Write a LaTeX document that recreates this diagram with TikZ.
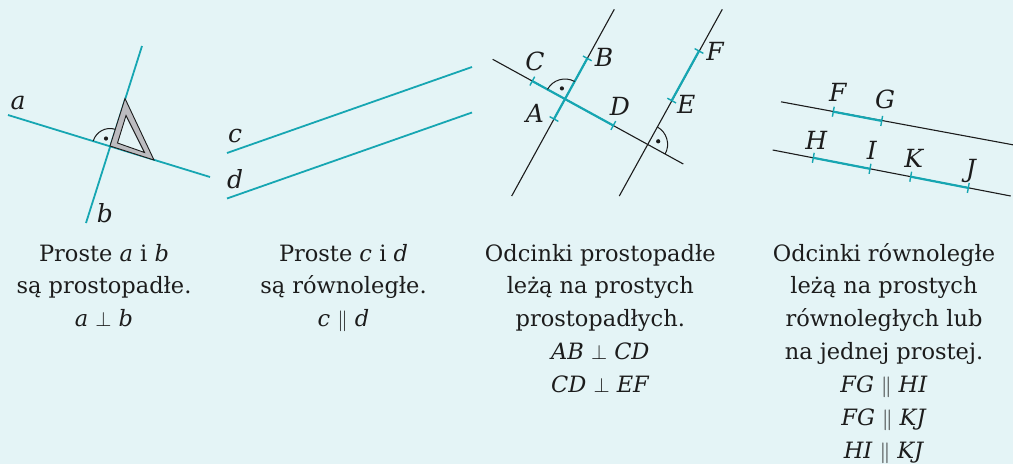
\documentclass[tikz,border=0pt]{standalone}
\usepackage{fontspec}
\setmainfont{DejaVu Serif}
\usetikzlibrary{calc}
\definecolor{bg}{RGB}{228,244,246}
\definecolor{teal1}{RGB}{22,166,178}
\definecolor{ink}{RGB}{28,28,28}
\definecolor{setsq}{RGB}{188,188,192}
\tikzset{
 tl/.style={draw=teal1, line width=1.8pt},
 bl/.style={draw=ink, line width=1.1pt},
 seg/.style={draw=teal1, line width=2.2pt},
 tickm/.style={draw=teal1, line width=1.4pt},
 lbl/.style={font=\fontsize{25}{28}\selectfont\itshape, inner sep=0pt, anchor=base, text=ink},
 txt/.style={font=\fontsize{22.5}{33}\selectfont, inner sep=0pt, anchor=base, text=ink},
 ra/.style={draw=ink, line width=1.0pt},
 dotm/.style={circle, fill=ink, inner sep=0pt, minimum size=4.2pt},
}
\begin{document}
\begin{tikzpicture}[x=1pt,y=-1pt]
\fill[bg] (0,0) rectangle (1013,464);
\useasboundingbox (0,0) rectangle (1013,464);

% ---------- panel 1 ----------
\coordinate (a1) at (8,115);
\coordinate (a2) at (210,177);
\coordinate (b1) at (142,46);
\coordinate (b2) at (86,223);
\coordinate (O1) at (110,146);
\draw[tl] (a1) -- (a2);
\draw[tl] (b1) -- (b2);
\draw[ra] ([shift={(73:17.5pt)}]O1) arc[start angle=73, end angle=163, radius=17.5pt];
\node[dotm] (dot1) at (106,138.5) {};
\path[fill=setsq, draw=ink, line width=0.9pt, even odd rule]
  (110,146) -- (125,98.5) -- (154,160) -- cycle
  (117.5,143) -- (126,115.5) -- (144.5,152.5) -- cycle;
\node[lbl] (la) at (18,109) {a};
\node[lbl] (lb) at (105,222) {b};

% ---------- panel 2 ----------
\coordinate (c1) at (227,153);
\coordinate (c2) at (472,67);
\coordinate (d1) at (227,198.5);
\coordinate (d2) at (472,112.5);
\draw[tl] (c1) -- (c2);
\draw[tl] (d1) -- (d2);
\node[lbl] (lc) at (235,142.5) {c};
\node[lbl] (ld) at (235,188) {d};

% ---------- panel 3 ----------
\coordinate (L1a) at (511.7,196);
\coordinate (L1b) at (614.3,9.3);
\coordinate (L2a) at (619.3,196);
\coordinate (L2b) at (722.3,9.3);
\coordinate (Ta) at (492.7,59.3);
\coordinate (Tb) at (683.3,164);
\coordinate (P1) at (565,99);
\coordinate (P2) at (647.6,144.4);
\coordinate (C) at (532.3,81.1);
\coordinate (D) at (613.3,125.5);
\coordinate (A) at (554,119);
\coordinate (B) at (587.3,58.4);
\coordinate (E) at (671.7,100.6);
\coordinate (F) at (699,51);
\draw[bl] (L1a) -- (L1b);
\draw[bl] (L2a) -- (L2b);
\draw[bl] (Ta) -- (Tb);
\draw[seg] (C) -- (D);
\draw[seg] (A) -- (B);
\draw[seg] (E) -- (F);
\foreach \p in {C,D}
  \draw[tickm] ($(\p)+(2.4,-4.4)$) -- ($(\p)-(2.4,-4.4)$);
\foreach \p in {A,B,E,F}
  \draw[tickm] ($(\p)+(4.4,2.4)$) -- ($(\p)-(4.4,2.4)$);
\draw[ra] ([shift={(61.2:20pt)}]P1) arc[start angle=61.2, end angle=151.2, radius=20pt];
\draw[ra] ([shift={(-28.8:20pt)}]P2) arc[start angle=-28.8, end angle=61.2, radius=20pt];
\node[dotm] (dot2) at (561.9,88.4) {};
\node[dotm] (dot3) at (658.2,141.3) {};
\node[lbl] (lC) at (535,70.7) {C};
\node[lbl] (lB) at (604,66.7) {B};
\node[lbl] (lA) at (535,122.7) {A};
\node[lbl] (lD) at (620,115) {D};
\node[lbl] (lE) at (686.3,113.3) {E};
\node[lbl] (lF) at (715,60) {F};

% ---------- panel 4 ----------
\coordinate (U1) at (781,101.8);
\coordinate (U2) at (1013,144.8);
\coordinate (W1) at (772.7,150);
\coordinate (W2) at (1010.7,196);
\coordinate (F4) at (833.3,111.7);
\coordinate (G4) at (881.7,120.9);
\coordinate (H4) at (813.3,157.8);
\coordinate (I4) at (870,168.8);
\coordinate (K4) at (910.7,176.7);
\coordinate (J4) at (968.3,187.9);
\draw[bl] (U1) -- (U2);
\draw[bl] (W1) -- (W2);
\draw[seg] (F4) -- (G4);
\draw[seg] (H4) -- (I4);
\draw[seg] (K4) -- (J4);
\foreach \p in {F4,G4,H4,I4,K4,J4}
  \draw[tickm] ($(\p)+(0.9,-5)$) -- ($(\p)-(0.9,-5)$);
\node[lbl] (lF4) at (837.7,101.7) {F};
\node[lbl] (lG4) at (885,108.3) {G};
\node[lbl] (lH4) at (816.3,149.3) {H};
\node[lbl] (lI4) at (871.7,159.3) {I};
\node[lbl] (lK4) at (913.7,167.3) {K};
\node[lbl] (lJ4) at (971,177) {J};

% ---------- captions ----------
\node[txt] (t11) at (104,261) {Proste \textit{a} i \textit{b}};
\node[txt] (t12) at (104,293.5) {są prostopadłe.};
\node[txt] (t13) at (104,326.5) {\textit{a} $\perp$ \textit{b}};

\node[txt] (t21) at (343.5,261) {Proste \textit{c} i \textit{d}};
\node[txt] (t22) at (343.5,293.5) {są równoległe.};
\node[txt] (t23) at (343.5,326.5) {\textit{c} $\parallel$ \textit{d}};

\node[txt] (t31) at (600.3,261) {Odcinki prostopadłe};
\node[txt] (t32) at (600.3,293.5) {leżą na prostych};
\node[txt] (t33) at (600.3,326.5) {prostopadłych.};
\node[txt] (t34) at (600.3,359.5) {\textit{AB} $\perp$ \textit{CD}};
\node[txt] (t35) at (600.3,392.5) {\textit{CD} $\perp$ \textit{EF}};

\node[txt] (t41) at (884,261) {Odcinki równoległe};
\node[txt] (t42) at (884,293.5) {leżą na prostych};
\node[txt] (t43) at (884,326.5) {równoległych lub};
\node[txt] (t44) at (884,359.5) {na jednej prostej.};
\node[txt] (t45) at (884,392.5) {\textit{FG} $\parallel$ \textit{HI}};
\node[txt] (t46) at (884,425.5) {\textit{FG} $\parallel$ \textit{KJ}};
\node[txt] (t47) at (884,458.5) {\textit{HI} $\parallel$ \textit{KJ}};
\end{tikzpicture}
\end{document}
